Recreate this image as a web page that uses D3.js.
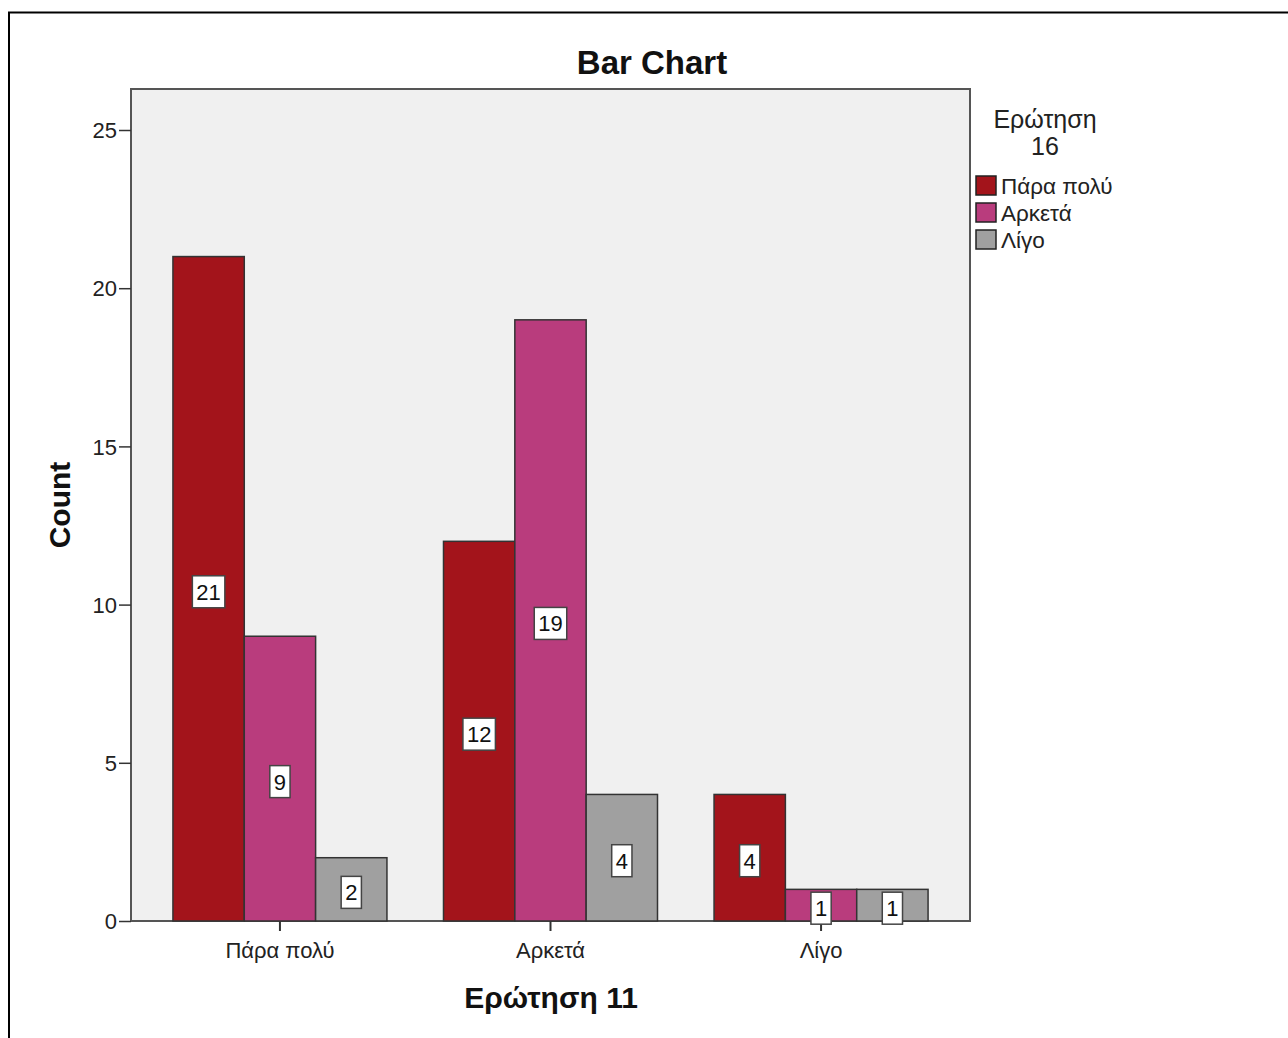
<!DOCTYPE html>
<html><head><meta charset="utf-8">
<script src="https://cdn.jsdelivr.net/npm/d3@7"></script>
<style>
html,body{margin:0;padding:0;background:#fff;}
svg text{font-family:"Liberation Sans",Arial,sans-serif;}
</style></head>
<body>
<svg id="c" width="1288" height="1038"></svg>
<script>
const categories = ["Πάρα πολύ", "Αρκετά", "Λίγο"];
const seriesNames = ["Πάρα πολύ", "Αρκετά", "Λίγο"];
const seriesParaPoly = [21, 12, 4];
const seriesArketa = [9, 19, 1];
const seriesLigo = [2, 4, 1];
const yTicks = [0, 5, 10, 15, 20, 25];
const colors = ["#a3141b", "#b93c7d", "#a0a0a0"];
const seriesValues = [seriesParaPoly, seriesArketa, seriesLigo];

const svg = d3.select("#c");
// outer frame
svg.append("rect").attr("x", 9).attr("y", 12.5).attr("width", 1300).attr("height", 1100)
  .attr("fill", "#fff").attr("stroke", "#000").attr("stroke-width", 2);

const L = 131, R = 970, T = 89, B = 921;
const x = d3.scaleBand().domain(categories).range([L, R]).paddingInner(0.209).paddingOuter(0.155);
const xs = d3.scaleBand().domain(seriesNames).range([0, x.bandwidth()]);
const y = d3.scaleLinear().domain([0, 25]).range([B, 130]);

svg.append("rect").attr("x", L).attr("y", T).attr("width", R - L).attr("height", B - T)
  .attr("fill", "#f0f0f0").attr("stroke", "#555").attr("stroke-width", 2);

const data = [];
categories.forEach((c, i) => seriesNames.forEach((s, j) => data.push({c, s, j, v: seriesValues[j][i]})));

svg.append("g").selectAll("rect").data(data).join("rect")
  .attr("x", d => x(d.c) + xs(d.s)).attr("y", d => y(d.v))
  .attr("width", xs.bandwidth()).attr("height", d => y(0) - y(d.v))
  .attr("fill", d => colors[d.j]).attr("stroke", "#333").attr("stroke-width", 1.5);

// axes
const yAxis = d3.axisLeft(y).tickValues(yTicks).tickSize(12).tickPadding(2);
const gy = svg.append("g").attr("transform", `translate(${L},0)`).call(yAxis);
gy.select(".domain").remove();
gy.selectAll("line").attr("stroke", "#333").attr("stroke-width", 1.5);
gy.selectAll("text").attr("font-size", 22).attr("fill", "#222").attr("dy", "0.35em");

const xAxis = d3.axisBottom(x).tickSize(10).tickPadding(11);
const gx = svg.append("g").attr("transform", `translate(0,${B})`).call(xAxis);
gx.select(".domain").remove();
gx.selectAll("line").attr("stroke", "#333").attr("stroke-width", 2);
gx.selectAll("text").attr("font-size", 22).attr("fill", "#222");

// value labels
const lab = svg.append("g").selectAll("g").data(data).join("g")
  .attr("transform", d => `translate(${x(d.c) + xs(d.s) + xs.bandwidth() / 2},${(y(d.v) + y(0)) / 2 + 3})`);
lab.append("text").attr("text-anchor", "middle").attr("dy", "0.36em")
  .attr("font-size", 22).attr("fill", "#111").text(d => d.v);
lab.each(function () {
  const g = d3.select(this);
  const bb = g.select("text").node().getBBox();
  g.insert("rect", "text").attr("x", bb.x - 4).attr("y", -16).attr("width", bb.width + 8).attr("height", 32)
    .attr("fill", "#fff").attr("stroke", "#444").attr("stroke-width", 1.5);
});

// titles
svg.append("text").attr("x", 652).attr("y", 74).attr("text-anchor", "middle")
  .attr("font-size", 33).attr("font-weight", "bold").attr("fill", "#111").text("Bar Chart");
svg.append("text").attr("transform", `translate(70,${(T + B) / 2}) rotate(-90)`).attr("text-anchor", "middle")
  .attr("font-size", 30).attr("font-weight", "bold").attr("fill", "#111").text("Count");
svg.append("text").attr("x", 551).attr("y", 1008).attr("text-anchor", "middle")
  .attr("font-size", 30).attr("font-weight", "bold").attr("fill", "#111").text("Ερώτηση 11");

// legend
svg.append("text").attr("x", 1045).attr("y", 128).attr("text-anchor", "middle")
  .attr("font-size", 25).attr("fill", "#222").text("Ερώτηση");
svg.append("text").attr("x", 1045).attr("y", 155).attr("text-anchor", "middle")
  .attr("font-size", 25).attr("fill", "#222").text("16");
const lg = svg.append("g").selectAll("g").data(seriesNames).join("g")
  .attr("transform", (d, i) => `translate(976,${176 + i * 27})`);
lg.append("rect").attr("width", 20).attr("height", 19).attr("fill", (d, i) => colors[i])
  .attr("stroke", "#222").attr("stroke-width", 1.5);
lg.append("text").attr("x", 25).attr("y", 18).attr("font-size", 22.5).attr("fill", "#222").text(d => d);
</script>
</body></html>
